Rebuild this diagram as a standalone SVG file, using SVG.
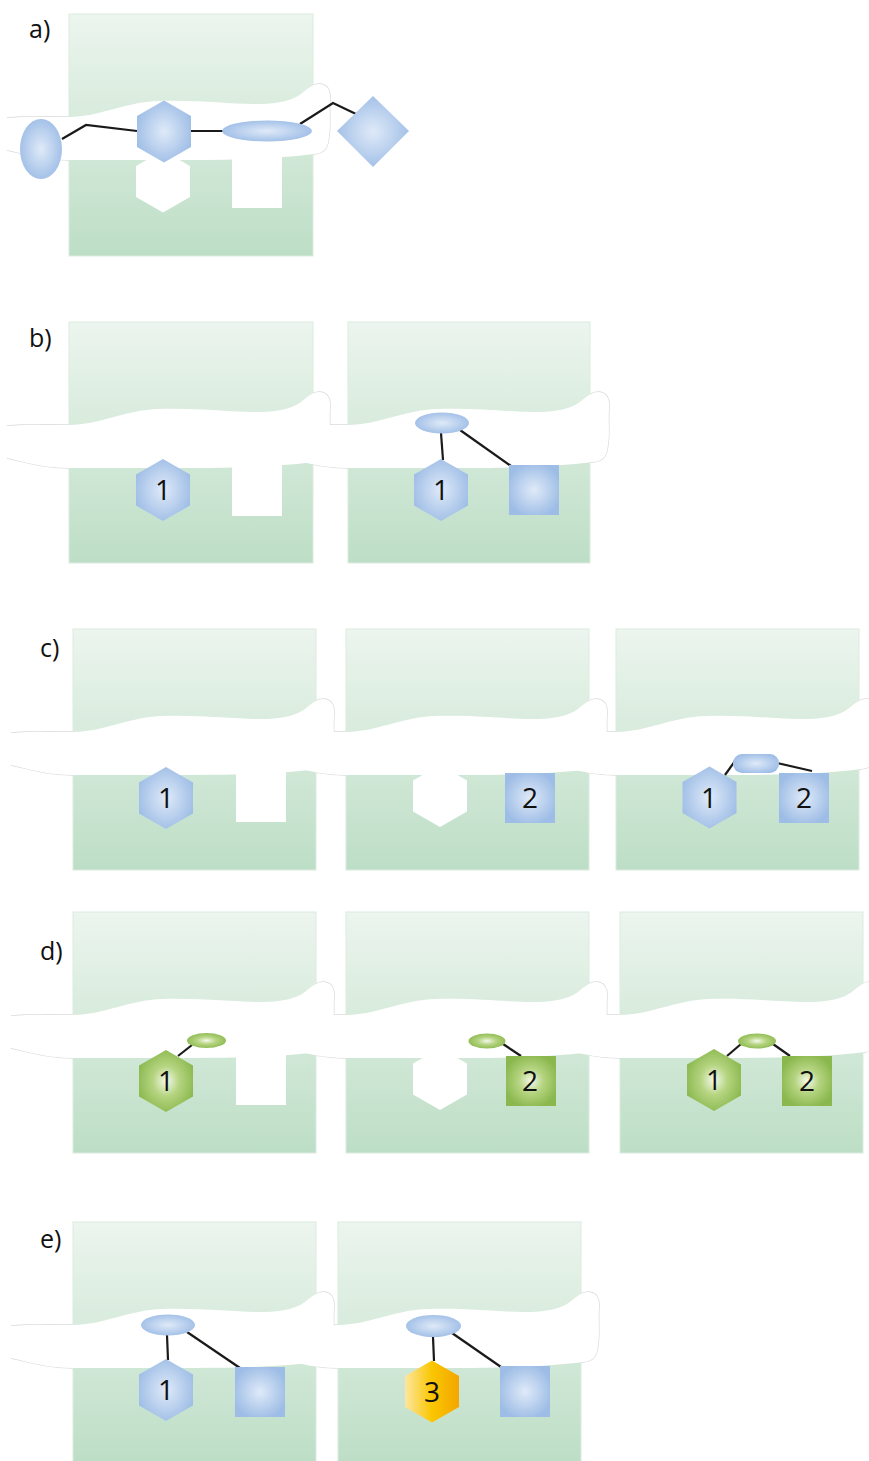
<svg xmlns="http://www.w3.org/2000/svg" xmlns:xlink="http://www.w3.org/1999/xlink" width="869" height="1461" viewBox="0 0 869 1461">
<style>
.panel{fill:url(#gPanel);stroke:#dcebe0;stroke-width:1}
.cut{fill:#ffffff}
.bandS{fill:none;stroke:#dadada;stroke-width:1.4}
.bandF{fill:#ffffff;stroke:none}
.blue{fill:url(#gBlue)}
.green{fill:url(#gGreen)}
.yellow{fill:url(#gYellow)}
.link{fill:none;stroke:#1a1a1a;stroke-width:2.2;stroke-linejoin:miter}
.num{font-family:"Open Sans","Liberation Sans",sans-serif;font-size:28px;fill:#111;text-anchor:middle}
.lab{font-family:"Open Sans","Liberation Sans",sans-serif;font-size:25px;fill:#111}
</style>
<defs>
<linearGradient id="gPanel" x1="0" y1="0" x2="0" y2="1">
<stop offset="0" stop-color="#ecf5ee"/>
<stop offset="1" stop-color="#bddec6"/>
</linearGradient>
<radialGradient id="gBlue" cx="0.5" cy="0.5" r="0.55">
<stop offset="0" stop-color="#dfeaf8"/>
<stop offset="1" stop-color="#9ebde6"/>
</radialGradient>
<radialGradient id="gGreen" cx="0.5" cy="0.5" r="0.55">
<stop offset="0" stop-color="#f4f9ec"/>
<stop offset="0.45" stop-color="#b5d480"/>
<stop offset="1" stop-color="#8ab84e"/>
</radialGradient>
<linearGradient id="gYellow" x1="0" y1="0" x2="1" y2="0">
<stop offset="0" stop-color="#fde6a0"/>
<stop offset="0.5" stop-color="#fac600"/>
<stop offset="1" stop-color="#f4a600"/>
</linearGradient>
<path id="band" d="M -62,104 C -40,102 -20,103 0,103 C 30,103 55,88 90,87 C 130,86 160,90 185,90 C 205,90 215,88 225,84 C 235,80 240,70 250,70 C 258,70 262,76 261,86 C 260,100 262,110 260,122 C 259,134 256,139 245,140 C 215,144 170,146 120,146 C 70,146 30,146 0,146 C -25,146 -45,140 -62,136"/>
<polygon id="hex" points="0,-31 27,-15.5 27,15.5 0,31 -27,15.5 -27,-15.5"/>
</defs>

<g id="backgrounds">
<use href="#band" class="bandS" transform="translate(69,14)"/>
<use href="#band" class="bandS" transform="translate(69,322)"/>
<use href="#band" class="bandS" transform="translate(348,322)"/>
<use href="#band" class="bandS" transform="translate(73,629)"/>
<use href="#band" class="bandS" transform="translate(346,629)"/>
<use href="#band" class="bandS" transform="translate(616,629)"/>
<use href="#band" class="bandS" transform="translate(73,912)"/>
<use href="#band" class="bandS" transform="translate(346,912)"/>
<use href="#band" class="bandS" transform="translate(620,912)"/>
<use href="#band" class="bandS" transform="translate(73,1222)"/>
<use href="#band" class="bandS" transform="translate(338,1222)"/>

<rect class="panel" x="69" y="14" width="244" height="242"/>
<rect class="panel" x="69" y="322" width="244" height="241"/>
<rect class="panel" x="348" y="322" width="242" height="241"/>
<rect class="panel" x="73" y="629" width="243" height="241"/>
<rect class="panel" x="346" y="629" width="243" height="241"/>
<rect class="panel" x="616" y="629" width="243" height="241"/>
<rect class="panel" x="73" y="912" width="243" height="241"/>
<rect class="panel" x="346" y="912" width="243" height="241"/>
<rect class="panel" x="620" y="912" width="243" height="241"/>
<rect class="panel" x="73" y="1222" width="243" height="240"/>
<rect class="panel" x="338" y="1222" width="243" height="240"/>

<use href="#hex" class="cut" transform="translate(163,181.5)"/>
<rect class="cut" x="232" y="140" width="50" height="68"/>
<rect class="cut" x="232" y="450" width="50" height="66"/>
<rect class="cut" x="236" y="756" width="50" height="66"/>
<use href="#hex" class="cut" transform="translate(440,796)"/>
<rect class="cut" x="236" y="1040" width="50" height="65"/>
<use href="#hex" class="cut" transform="translate(440,1079)"/>

<use href="#band" class="bandF" transform="translate(69,14)"/>
<use href="#band" class="bandF" transform="translate(69,322)"/>
<use href="#band" class="bandF" transform="translate(348,322)"/>
<use href="#band" class="bandF" transform="translate(73,629)"/>
<use href="#band" class="bandF" transform="translate(346,629)"/>
<use href="#band" class="bandF" transform="translate(616,629)"/>
<use href="#band" class="bandF" transform="translate(73,912)"/>
<use href="#band" class="bandF" transform="translate(346,912)"/>
<use href="#band" class="bandF" transform="translate(620,912)"/>
<use href="#band" class="bandF" transform="translate(73,1222)"/>
<use href="#band" class="bandF" transform="translate(338,1222)"/>
</g>

<g id="connectors">
<polyline class="link" points="62,139 86,125 137,131"/>
<line class="link" x1="190" y1="131" x2="223" y2="131"/>
<polyline class="link" points="300,124 333,103 356,114"/>
<line class="link" x1="441" y1="433" x2="443" y2="460"/>
<line class="link" x1="460" y1="430" x2="511" y2="466"/>
<line class="link" x1="725" y1="775" x2="735" y2="761"/>
<line class="link" x1="777" y1="763" x2="812" y2="771"/>
<line class="link" x1="178" y1="1056" x2="192" y2="1045"/>
<line class="link" x1="503" y1="1044" x2="521" y2="1056"/>
<line class="link" x1="727" y1="1056" x2="741" y2="1044"/>
<line class="link" x1="773" y1="1044" x2="790" y2="1056"/>
<line class="link" x1="167" y1="1335" x2="168" y2="1360"/>
<line class="link" x1="187" y1="1332" x2="240" y2="1368"/>
<line class="link" x1="433" y1="1337" x2="434" y2="1361"/>
<line class="link" x1="452" y1="1333" x2="501" y2="1367"/>
</g>

<g id="a-ellipse-left"><ellipse class="blue" cx="41" cy="149" rx="21" ry="30"/></g>
<g id="a-hex"><use href="#hex" class="blue" transform="translate(164,131.5)"/></g>
<g id="a-ellipse-mid"><ellipse class="blue" cx="267" cy="131" rx="45" ry="10.5"/></g>
<g id="a-diamond"><polygon class="blue" points="373,96 409,131 373,167 337,131"/></g>

<g id="b1-hex"><use href="#hex" class="blue" transform="translate(163,490)"/><text class="num" x="163" y="500">1</text></g>
<g id="b2-ellipse"><ellipse class="blue" cx="442" cy="423" rx="27" ry="10.5"/></g>
<g id="b2-hex"><use href="#hex" class="blue" transform="translate(441,490)"/><text class="num" x="441" y="500">1</text></g>
<g id="b2-square"><rect class="blue" x="509" y="465" width="50" height="50"/></g>

<g id="c1-hex"><use href="#hex" class="blue" transform="translate(166,798)"/><text class="num" x="166" y="808">1</text></g>
<g id="c2-square"><rect class="blue" x="505" y="773" width="50" height="50"/><text class="num" x="530" y="808">2</text></g>
<g id="c3-hex"><use href="#hex" class="blue" transform="translate(709.5,797.5)"/><text class="num" x="709" y="808">1</text></g>
<g id="c3-pill"><rect class="blue" x="733" y="754" width="46" height="19" rx="9" ry="9"/></g>
<g id="c3-square"><rect class="blue" x="779" y="773" width="50" height="50"/><text class="num" x="804" y="808">2</text></g>

<g id="d1-hex"><use href="#hex" class="green" transform="translate(166,1081)"/><text class="num" x="166" y="1091">1</text></g>
<g id="d1-ellipse"><ellipse class="green" cx="206.5" cy="1040.5" rx="19.5" ry="7.5"/></g>
<g id="d2-ellipse"><ellipse class="green" cx="487" cy="1041" rx="18.5" ry="7.5"/></g>
<g id="d2-square"><rect class="green" x="506" y="1056" width="50" height="50"/><text class="num" x="530" y="1091">2</text></g>
<g id="d3-hex"><use href="#hex" class="green" transform="translate(714,1080)"/><text class="num" x="714" y="1090">1</text></g>
<g id="d3-ellipse"><ellipse class="green" cx="757" cy="1041" rx="19" ry="7.5"/></g>
<g id="d3-square"><rect class="green" x="782" y="1056" width="50" height="50"/><text class="num" x="807" y="1091">2</text></g>

<g id="e1-ellipse"><ellipse class="blue" cx="168" cy="1325" rx="27" ry="10.5"/></g>
<g id="e1-hex"><use href="#hex" class="blue" transform="translate(166,1390)"/><text class="num" x="166" y="1400">1</text></g>
<g id="e1-square"><rect class="blue" x="235" y="1367" width="50" height="50"/></g>
<g id="e2-ellipse"><ellipse class="blue" cx="433.5" cy="1326" rx="27.5" ry="11"/></g>
<g id="e2-hex"><use href="#hex" class="yellow" transform="translate(432,1391.5)"/><text class="num" x="432" y="1402">3</text></g>
<g id="e2-square"><rect class="blue" x="500" y="1366" width="50" height="51"/></g>

<g id="labels">
<text class="lab" x="29" y="38">a)</text>
<text class="lab" x="29" y="347">b)</text>
<text class="lab" x="40" y="657">c)</text>
<text class="lab" x="40" y="960">d)</text>
<text class="lab" x="40" y="1248">e)</text>
</g>
</svg>
